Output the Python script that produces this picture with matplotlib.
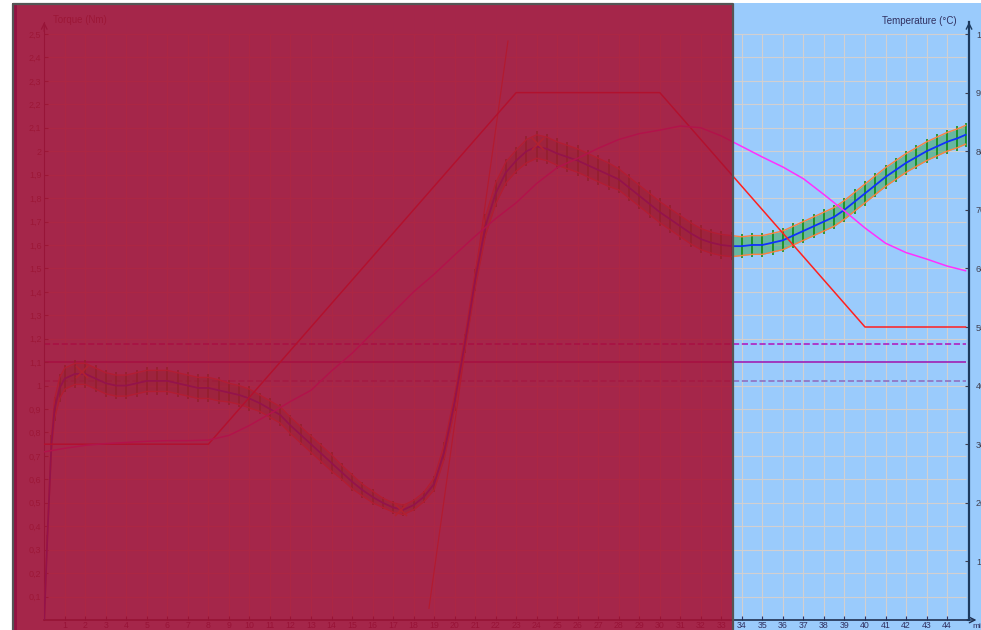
import numpy as np
import matplotlib
matplotlib.use("Agg")
import matplotlib.pyplot as plt
from matplotlib.patches import Rectangle

plt.rcParams['font.family'] = ['Liberation Sans', 'DejaVu Sans']

# torque curve (Nm) vs time (min)
t_torque = [0, 0.15, 0.35, 0.5, 0.75, 1.0, 1.5, 2.0, 2.5, 3.0, 3.5, 4.0, 4.5, 5.0, 5.5,
            6.0, 6.5, 7.0, 7.5, 8.0, 8.5, 9.0, 9.5, 10.0, 10.5, 11.0, 11.5, 12.0,
            12.5, 13.0, 13.5, 14.0, 14.5, 15.0, 15.5, 16.0, 16.5, 17.0, 17.5, 18.0,
            18.5, 19.0, 19.5, 20.0, 20.5, 21.0, 21.5, 22.0, 22.5, 23.0, 23.5, 24.0,
            24.5, 25.0, 25.5, 26.0, 26.5, 27.0, 27.5, 28.0, 28.5, 29.0, 29.5, 30.0,
            30.5, 31.0, 31.5, 32.0, 32.5, 33.0, 33.5, 34.0, 34.5, 35.0, 35.5, 36.0,
            36.5, 37.0, 37.5, 38.0, 38.5, 39.0, 39.5, 40.0, 40.5, 41.0, 41.5, 42.0,
            42.5, 43.0, 43.5, 44.0, 44.5, 44.9]
torque = [0.00, 0.35, 0.75, 0.90, 0.99, 1.03, 1.05, 1.05, 1.03, 1.01, 1.00, 1.00, 1.01,
          1.02, 1.02, 1.02, 1.01, 1.00, 0.99, 0.99, 0.98, 0.97, 0.96, 0.945, 0.925,
          0.90, 0.875, 0.83, 0.79, 0.75, 0.71, 0.67, 0.63, 0.59, 0.555, 0.525, 0.50,
          0.48, 0.47, 0.49, 0.525, 0.58, 0.72, 0.93, 1.18, 1.45, 1.68, 1.82, 1.91,
          1.96, 2.00, 2.02, 2.01, 1.99, 1.975, 1.96, 1.94, 1.92, 1.90, 1.88, 1.845,
          1.81, 1.775, 1.74, 1.71, 1.68, 1.65, 1.625, 1.61, 1.60, 1.595, 1.595, 1.60,
          1.60, 1.61, 1.62, 1.64, 1.66, 1.68, 1.70, 1.72, 1.75, 1.785, 1.82, 1.855,
          1.89, 1.92, 1.95, 1.975, 2.00, 2.02, 2.04, 2.055, 2.07]
torque_band = [0.0, 0.01, 0.03, 0.04, 0.045, 0.045, 0.045, 0.045, 0.045, 0.045, 0.045,
               0.045, 0.045, 0.045, 0.045, 0.045, 0.045, 0.045, 0.045, 0.045, 0.045,
               0.04, 0.04, 0.04, 0.035, 0.035, 0.035, 0.035, 0.035, 0.035, 0.035, 0.035,
               0.03, 0.03, 0.025, 0.025, 0.02, 0.02, 0.02, 0.02, 0.02, 0.025, 0.03, 0.03,
               0.03, 0.035, 0.04, 0.045, 0.045, 0.045, 0.05, 0.05, 0.05, 0.05, 0.05,
               0.05, 0.05, 0.05, 0.05, 0.045, 0.045, 0.045, 0.045, 0.045, 0.045, 0.045,
               0.045, 0.045, 0.045, 0.045, 0.045, 0.04, 0.04, 0.04, 0.04, 0.04, 0.04,
               0.04, 0.04, 0.04, 0.04, 0.04, 0.04, 0.04, 0.04, 0.04, 0.04, 0.04, 0.04,
               0.04, 0.04, 0.04, 0.04, 0.04]

# measured temperature (magenta) and set temperature (red), degC
t_temp = [0, 1, 2, 3, 4, 5, 6, 7, 8, 9, 10, 11, 12, 13, 14, 15, 16, 17, 18, 19, 20, 21,
          22, 23, 24, 25, 26, 27, 28, 29, 30, 31, 32, 33, 34, 35, 36, 37, 38, 39, 40,
          41, 42, 43, 44, 44.9]
temp = [28.7, 29.3, 29.8, 30.1, 30.3, 30.5, 30.6, 30.6, 30.7, 31.5, 33.2, 35.2, 37.3,
        39.2, 42.5, 45.5, 49.0, 52.5, 56.0, 59.0, 62.3, 65.5, 68.5, 71.2, 74.5, 77.2,
        78.8, 80.5, 82.0, 83.0, 83.6, 84.3, 84.0, 82.6, 80.8, 79.0, 77.3, 75.3, 72.6,
        69.8, 66.9, 64.3, 62.7, 61.6, 60.4, 59.6]
t_set = [0, 8, 23, 30, 40, 44.9]
temp_set = [30, 30, 90, 90, 50, 50]

# tangent at the inflection and marked points
t_tangent = [18.75, 22.6]
torque_tangent = [0.05, 2.47]
t_marks = [1.85, 17.4, 24.05]
torque_marks = [1.06, 0.47, 2.03]

# horizontal reference levels (Nm)
ref_levels = [1.178, 1.10, 1.02]
ref_styles = ['--', '-', '--']
ref_colors = ['#b020c0', '#9a20b8', '#9070c0']

t_torque = np.array(t_torque)
torque = np.array(torque)
torque_band = np.array(torque_band)

fig = plt.figure(figsize=(9.81, 6.30), dpi=100)
fig.patch.set_facecolor('white')
fig.add_artist(Rectangle((12 / 981, 0), 1 - 12 / 981, 627 / 630, transform=fig.transFigure,
                         facecolor='#9acbfc', edgecolor='none', zorder=-5))

ax = fig.add_axes([0.0451, 0.0159, 0.9427, 0.9487])
ax.set_facecolor('none')
ax.set_xlim(0, 45.07)
ax.set_ylim(0, 2.55)

# grid
ax.vlines(np.arange(1, 45), 0, 2.5, color='#d2cfd0', lw=0.8, zorder=0)
ax.hlines(np.arange(0.1, 2.51, 0.1), 0, 44.9, color='#d2cfd0', lw=0.8, zorder=0)

for lev, ls, c in zip(ref_levels, ref_styles, ref_colors):
    ax.hlines(lev, 0, 44.9, colors=c, linestyles=ls, lw=1.2, zorder=1)

ax.plot(t_tangent, torque_tangent, color='#ff7030', lw=0.9, zorder=2)

ax.fill_between(t_torque, torque - torque_band, torque + torque_band,
                color='#1a9a1a', alpha=0.4, lw=0, zorder=3)
ax.errorbar(t_torque, torque, yerr=torque_band * 1.3, fmt='none', ecolor='#0a8a0a',
            elinewidth=1.1, zorder=3)
ax.plot(t_torque, torque + torque_band, color='#ff8040', lw=1.0, zorder=4)
ax.plot(t_torque, torque - torque_band, color='#ff8040', lw=1.0, zorder=4)
ax.plot(t_torque, torque, color='#1030ff', lw=1.3, zorder=5)
ax.plot(t_marks, torque_marks, 'x', color='#ffa030', ms=9, mew=1.2, zorder=6)

ax2 = ax.twinx()
ax2.set_ylim(0, 102)
ax2.plot(t_set, temp_set, color='#ff2020', lw=1.1, zorder=3)
ax2.plot(t_temp, temp, color='#ff30ff', lw=1.1, zorder=3)

# axes styling
for a in (ax, ax2):
    a.spines['top'].set_visible(False)
ax.spines['right'].set_visible(False)
ax2.spines['left'].set_visible(False)
ax2.spines['bottom'].set_visible(False)
ax.spines['left'].set_color('#304070')
ax.spines['bottom'].set_color('#203050')
ax.spines['bottom'].set_linewidth(1.2)
ax2.spines['right'].set_color('#1c3a5e')
ax2.spines['right'].set_linewidth(1.6)

yt = np.round(np.arange(0.1, 2.51, 0.1), 1)
ax.set_yticks(yt)
ax.set_yticklabels([str(int(v)) if v == int(v) else f"{v:.1f}".replace('.', ',') for v in yt])
ax.set_xticks(np.arange(1, 45))
ax.set_xticklabels([str(i) for i in range(1, 45)])
ax.tick_params(axis='y', direction='in', length=3, labelsize=6.5, colors='#505060', pad=2)
ax.tick_params(axis='x', direction='in', length=3, labelsize=6.3, colors='#303060', pad=0.5)
ax2.set_yticks(np.arange(10, 101, 10))
ax2.tick_params(axis='y', direction='in', length=3, labelsize=6.5, colors='#404050', pad=5)

ax.annotate('', xy=(0, 1.005), xytext=(0, 0.98), xycoords='axes fraction',
            arrowprops=dict(arrowstyle='->', color='#304070', lw=1))
ax.annotate('', xy=(1, 1.005), xytext=(1, 0.98), xycoords='axes fraction',
            arrowprops=dict(arrowstyle='->', color='#1c3a5e', lw=1))
ax.annotate('', xy=(1.011, 0), xytext=(0.995, 0), xycoords='axes fraction',
            arrowprops=dict(arrowstyle='->', color='#203050', lw=1))

fig.text(53 / 981, 1 - 20 / 630, 'Torque (Nm)', fontsize=7, color='#505060', va='center')
fig.text(957 / 981, 1 - 21 / 630, 'Temperature (°C)', fontsize=7, color='#303060',
         va='center', ha='right')
fig.text(972 / 981, 1 - 626 / 630, 'min', fontsize=6, color='#303060', va='center')

# translucent selection overlay on the left part
fig.add_artist(Rectangle((12 / 981, 0), (733 - 12) / 981, 627 / 630, transform=fig.transFigure,
                         facecolor='#a70f31', alpha=0.88, edgecolor='none', zorder=10))
fig.add_artist(Rectangle((13.5 / 981, 0), 3.5 / 981, 627 / 630, transform=fig.transFigure,
                         facecolor='#8c0a40', alpha=0.7, edgecolor='none', zorder=11))
fig.add_artist(plt.Line2D([12.5 / 981, 12.5 / 981, 732.5 / 981, 732.5 / 981],
                          [0, 626 / 630, 626 / 630, 0], transform=fig.transFigure,
                          color='#555555', lw=1.6, zorder=12))

fig.savefig('out.png', dpi=100)
